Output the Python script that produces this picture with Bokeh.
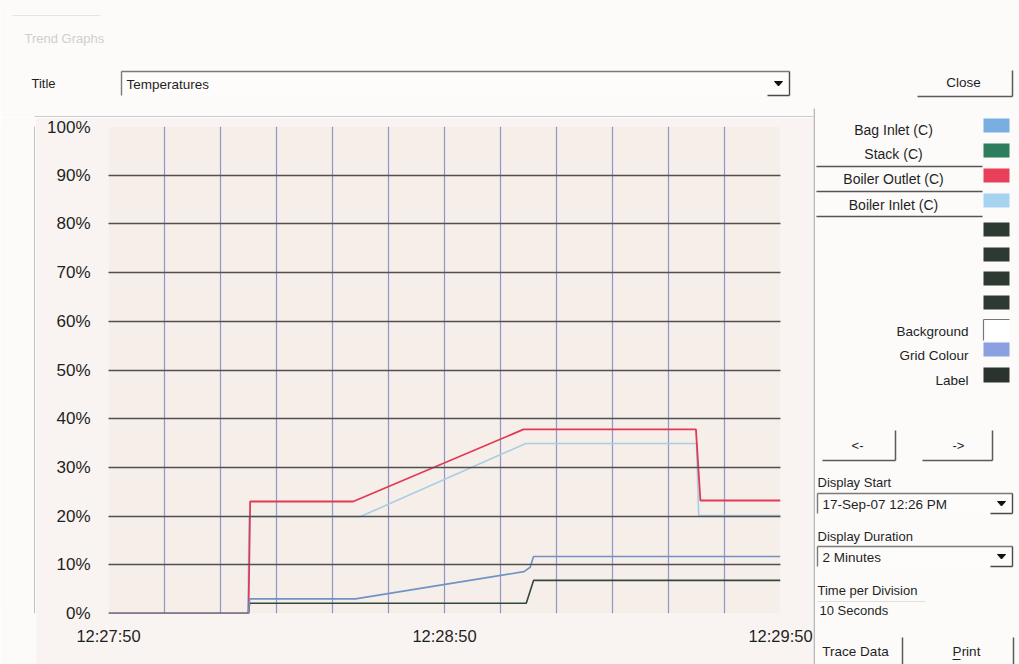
from bokeh.plotting import figure
from bokeh.models import FixedTicker, Range1d
from bokeh.layouts import row, column
from bokeh.core.properties import value
from bokeh.embed import file_html
from bokeh.resources import INLINE

# ---------------- data (time in seconds after 12:27:50, value in %) ----------------
series_names = ["Bag Inlet (C)", "Stack (C)", "Boiler Outlet (C)", "Boiler Inlet (C)"]
swatch_colors = ["#79aee0", "#2e7d5c", "#e8405a", "#a6d3f0"]
line_colors = ["#6f93c4", "#34473d", "#e03a56", "#a9cde3"]

bag_inlet_t = [0, 25.0, 25.2, 44.1, 74.2, 75.3, 75.9, 120]
bag_inlet_v = [0, 0, 3.0, 3.0, 8.6, 9.5, 11.7, 11.7]
stack_t = [0, 25.0, 25.2, 74.6, 75.9, 120]
stack_v = [0, 0, 2.1, 2.1, 6.8, 6.8]
boiler_outlet_t = [0, 25.0, 25.3, 43.7, 74.1, 104.9, 105.7, 120]
boiler_outlet_v = [0, 0, 23.0, 23.0, 37.8, 37.8, 23.2, 23.2]
boiler_inlet_t = [0, 24.9, 25.1, 45.0, 74.5, 105.0, 105.4, 120]
boiler_inlet_v = [0, 0, 19.9, 19.9, 34.9, 34.9, 20.1, 20.1]

y_ticks = [0, 10, 20, 30, 40, 50, 60, 70, 80, 90, 100]
y_tick_labels = ["0%", "10%", "20%", "30%", "40%", "50%", "60%", "70%", "80%", "90%", "100%"]
x_ticks = [0, 60, 120]
x_tick_labels = ["12:27:50", "12:28:50", "12:29:50"]
grid_x = [0, 10, 20, 30, 40, 50, 60, 70, 80, 90, 100, 110, 120]

FONT = "Liberation Sans"
PAGE_BG = "#fcfbfa"
PANEL_BG = "#f9f4f1"
TXT = "#1f1f1f"

# ---------------- main chart ----------------
p = figure(width=778, height=547, output_backend="svg", toolbar_location=None,
           x_range=(0, 120), y_range=(0, 100),
           min_border_left=73, min_border_right=33, min_border_top=9, min_border_bottom=51)
p.background_fill_color = "#f6eee9"
p.border_fill_color = PANEL_BG
p.outline_line_color = None

p.xaxis.ticker = FixedTicker(ticks=x_ticks)
p.xaxis.major_label_overrides = dict(zip(x_ticks, x_tick_labels))
p.yaxis.ticker = FixedTicker(ticks=y_ticks)
p.yaxis.major_label_overrides = dict(zip(y_ticks, y_tick_labels))
for ax in (p.xaxis, p.yaxis):
    ax.axis_line_color = None
    ax.major_tick_line_color = None
    ax.minor_tick_line_color = None
    ax.major_tick_out = 0
    ax.major_tick_in = 0
    ax.minor_tick_out = 0
    ax.major_label_text_font = FONT
    ax.major_label_text_color = TXT
p.yaxis.major_label_text_font_size = "17px"
p.xaxis.major_label_text_font_size = "16.5px"
p.yaxis.major_label_standoff = 18
p.xaxis.major_label_standoff = 13

p.xgrid.ticker = FixedTicker(ticks=grid_x)
p.xgrid.grid_line_color = "#8d98c6"
p.xgrid.grid_line_width = 1.2
p.ygrid.ticker = FixedTicker(ticks=y_ticks)
p.ygrid.grid_line_color = "#505050"
p.ygrid.grid_line_width = 1.6
p.ygrid.level = "guide"

p.line(boiler_inlet_t, boiler_inlet_v, color=line_colors[3], line_width=1.6)
p.line(boiler_outlet_t, boiler_outlet_v, color=line_colors[2], line_width=1.8)
p.line(stack_t, stack_v, color=line_colors[1], line_width=1.6)
p.line(bag_inlet_t, bag_inlet_v, color=line_colors[0], line_width=1.6)


# ---------------- window chrome figures (pixel ranges) ----------------
def ui_fig(x0, x1, y0, y1, bg):
    f = figure(width=x1 - x0, height=y1 - y0, output_backend="svg", toolbar_location=None,
               x_range=Range1d(x0, x1), y_range=Range1d(y1, y0),
               min_border=0, x_axis_location=None, y_axis_location=None)
    f.grid.visible = False
    f.outline_line_color = None
    f.background_fill_color = bg
    f.border_fill_color = bg
    return f


def seg(f, x0, y0, x1, y1, color="#5a5a5a", w=1.5):
    f.segment(x0=[x0], y0=[y0], x1=[x1], y1=[y1], line_color=color, line_width=w)


def rect(f, l, t, r, b, fill, line=None, lw=1):
    f.quad(left=[l], right=[r], top=[t], bottom=[b], fill_color=fill, line_color=line, line_width=lw)


def txt(f, x, y, s, size=13.5, align="left", color=TXT):
    f.text(x=[x], y=[y], text=[s], text_font=value(FONT), text_font_size=value(f"{size}px"),
           text_align=value(align), text_baseline=value("middle"), text_color=color)


def arrow(f, cx, cy):
    f.patch(x=[cx - 4, cx + 4, cx], y=[cy - 2, cy - 2, cy + 2.5], fill_color="#111111",
            line_color="#111111", line_width=1)


def dropdown(f, l, t, r, b, text, size=13.5):
    rect(f, l, t, r, b, fill="#fdfcfb")
    seg(f, l, t, r, t, color="#7a7a7a", w=1.4)
    seg(f, l, t, l, b, color="#7a7a7a", w=1.4)
    seg(f, r - 22, b, r, b, color="#4a4a4a", w=1.4)
    seg(f, r, t, r, b, color="#4a4a4a", w=1.4)
    txt(f, l + 5, (t + b) / 2 + 1, text, size=size)
    arrow(f, r - 11, (t + b) / 2)


# header (x 0..813, y 0..117)
H = ui_fig(0, 813, 0, 117, PAGE_BG)
seg(H, 12, 15, 100, 15, color="#e6e3e3", w=1)
txt(H, 24, 38, "Trend Graphs", size=13, color="#d3cdcc")
txt(H, 31, 83, "Title", size=13)
dropdown(H, 121, 71, 789, 95, "Temperatures")
seg(H, 34, 116.5, 813, 116.5, color="#9a9a9a", w=1.2)

# left strip (x 0..35, y 117..664)
S = ui_fig(0, 35, 117, 664, PAGE_BG)
seg(S, 34.5, 117, 34.5, 664, color="#9a9a9a", w=1.2)

# right control panel (x 813..1019, y 0..664)
R = ui_fig(813, 1019, 0, 664, PAGE_BG)
seg(R, 813.6, 108, 813.6, 664, color="#9a9a9a", w=1.2)

# Close button
seg(R, 917, 96, 1012, 96)
seg(R, 1012, 70, 1012, 96)
txt(R, 963, 82, "Close", size=13.5, align="center")

# legend rows
legend_text_y = [129, 153, 178, 204]
swatch_y = [125, 150, 175, 200]
for name, col, ty, sy in zip(series_names, swatch_colors, legend_text_y, swatch_y):
    txt(R, 893, ty, name, size=14, align="center")
    rect(R, 983, sy - 7, 1009, sy + 7, fill=col)
for yy in [166, 191, 216]:
    seg(R, 816, yy, 982, yy, color="#555555", w=1.3)

for yy in [229, 254, 278, 302]:
    rect(R, 983, yy - 7, 1009, yy + 7, fill="#2c3a32")
txt(R, 968, 331, "Background", size=13.5, align="right")
rect(R, 983, 319, 1009, 340, fill="#ffffff")
seg(R, 983, 319, 1009, 319, color="#777777", w=1.2)
seg(R, 983, 319, 983, 340, color="#777777", w=1.2)
txt(R, 968, 355, "Grid Colour", size=13.5, align="right")
rect(R, 983, 342, 1009, 356, fill="#8aa0e0")
txt(R, 968, 380, "Label", size=13.5, align="right")
rect(R, 983, 367, 1009, 382, fill="#2b332e")

# arrow buttons
seg(R, 822, 460, 895, 460)
seg(R, 895, 430, 895, 460)
txt(R, 857, 445, "<-", size=13, align="center")
seg(R, 922, 460, 992, 460)
seg(R, 992, 430, 992, 460)
txt(R, 958, 445, "->", size=13, align="center")

# Display Start / Duration
txt(R, 817, 482, "Display Start", size=13)
dropdown(R, 817, 493, 1012, 513, "17-Sep-07 12:26 PM")
txt(R, 817, 536, "Display Duration", size=13)
dropdown(R, 817, 546, 1012, 566, "2 Minutes")

# Time per Division
txt(R, 817, 590, "Time per Division", size=13)
seg(R, 817, 601, 925, 601, color="#e2dede", w=1)
txt(R, 819, 610, "10 Seconds", size=13)

# bottom buttons
seg(R, 902, 637, 902, 664)
txt(R, 855, 651, "Trace Data", size=13.5, align="center")
seg(R, 1013, 637, 1013, 664)
txt(R, 966, 651, "Print", size=13.5, align="center")
seg(R, 952, 659, 960, 659, color="#222222", w=1)

layout = row(column(H, row(S, p)), R)
open("out.html", "w").write(file_html(layout, INLINE))
